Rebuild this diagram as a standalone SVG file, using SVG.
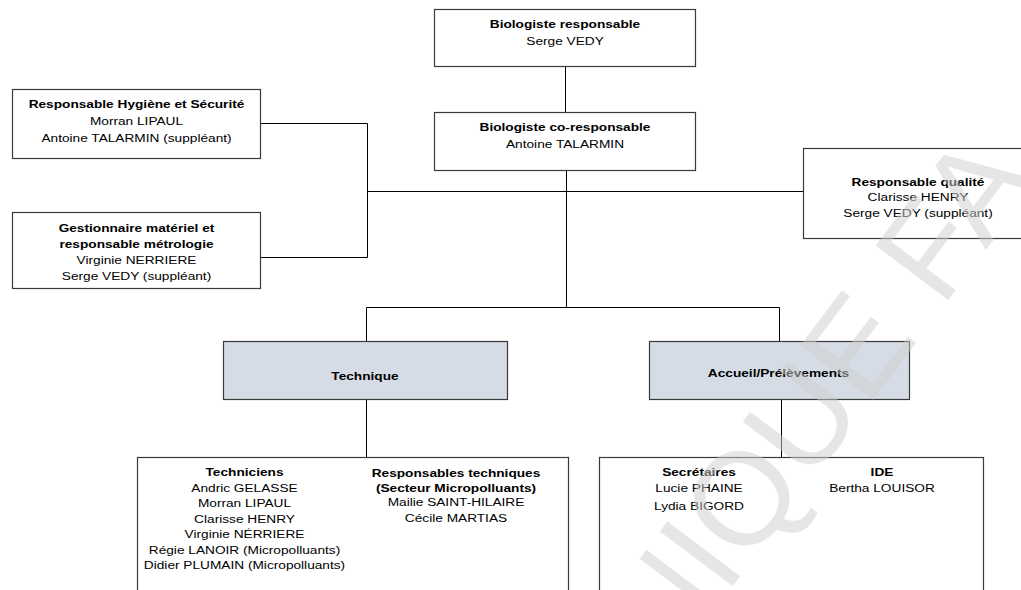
<svg xmlns="http://www.w3.org/2000/svg" width="1021" height="590" viewBox="0 0 1021 590">
  <style>
    text { font-family: "Liberation Sans", Arial, sans-serif; font-size: 11.5px; text-anchor: middle; fill: #000; }
    .b { font-weight: bold; }
    .box { fill: #fff; stroke: #3a3a3a; stroke-width: 1.2; }
    .dept { fill: #d6dce5; stroke: #3a3a3a; stroke-width: 1.2; }
    .wire { fill: none; stroke: #000; stroke-width: 1; }
    .mark { font-size: 132px; fill: #cfcfcf; opacity: 0.5; text-anchor: start; }
  </style>
  <rect width="1021" height="590" fill="#fff"/>

  <!-- connectors -->
  <g id="connectors">
    <path class="wire" d="M565.5 66 V112"/>
    <path class="wire" d="M566.5 170 V307.5"/>
    <path class="wire" d="M261 123.5 H367.5 V257.5 H261"/>
    <path class="wire" d="M367.5 191.5 H803.5"/>
    <path class="wire" d="M366.5 307.5 H779.5"/>
    <path class="wire" d="M366.5 307.5 V341.5"/>
    <path class="wire" d="M779.5 307.5 V341.5"/>
    <path class="wire" d="M366.5 399.5 V457.5"/>
    <path class="wire" d="M781.5 399.5 V457.5"/>
  </g>

  <g id="n-biologiste">
    <rect class="box" x="434.5" y="9.5" width="261" height="57"/>
    <g transform="matrix(1.19 0 0 1 565 0)">
      <text class="b" x="0" y="27.7">Biologiste responsable</text>
      <text x="0" y="45.5">Serge VEDY</text>
    </g>
  </g>

  <g id="n-cobiologiste">
    <rect class="box" x="434.5" y="112.5" width="261" height="58"/>
    <g transform="matrix(1.19 0 0 1 565 0)">
      <text class="b" x="0" y="130.7">Biologiste co-responsable</text>
      <text x="0" y="147.7">Antoine TALARMIN</text>
    </g>
  </g>

  <g id="n-hygiene">
    <rect class="box" x="12.5" y="89.5" width="248" height="69"/>
    <g transform="matrix(1.19 0 0 1 136.5 0)">
      <text class="b" x="0" y="108">Responsable Hygiène et Sécurité</text>
      <text x="0" y="125">Morran LIPAUL</text>
      <text x="0" y="142">Antoine TALARMIN (suppléant)</text>
    </g>
  </g>

  <g id="n-materiel">
    <rect class="box" x="12.5" y="212.5" width="248" height="76"/>
    <g transform="matrix(1.19 0 0 1 136.5 0)">
      <text class="b" x="0" y="232">Gestionnaire matériel et</text>
      <text class="b" x="0" y="248">responsable métrologie</text>
      <text x="0" y="264">Virginie NERRIERE</text>
      <text x="0" y="280">Serge VEDY (suppléant)</text>
    </g>
  </g>

  <g id="n-qualite">
    <rect class="box" x="803.5" y="148.5" width="235" height="90"/>
    <g transform="matrix(1.19 0 0 1 918 0)">
      <text class="b" x="0" y="186">Responsable qualité</text>
      <text x="0" y="201.5">Clarisse HENRY</text>
      <text x="0" y="217">Serge VEDY (suppléant)</text>
    </g>
  </g>

  <g id="n-technique">
    <rect class="dept" x="223.5" y="341.5" width="284" height="58"/>
    <g transform="matrix(1.19 0 0 1 365 0)">
      <text class="b" x="0" y="380">Technique</text>
    </g>
  </g>

  <g id="n-accueil">
    <rect class="dept" x="649.5" y="341.5" width="260" height="58"/>
    <g transform="matrix(1.19 0 0 1 778.5 0)">
      <text class="b" x="0" y="377">Accueil/Prélèvements</text>
    </g>
  </g>

  <g id="n-equipe-technique">
    <rect class="box" x="137.5" y="457.5" width="431" height="150"/>
    <g transform="matrix(1.19 0 0 1 244.5 0)">
      <text class="b" x="0" y="476">Techniciens</text>
      <text x="0" y="492">Andric GELASSE</text>
      <text x="0" y="507.5">Morran LIPAUL</text>
      <text x="0" y="523">Clarisse HENRY</text>
      <text x="0" y="538.5">Virginie NÉRRIERE</text>
      <text x="0" y="554">Régie LANOIR (Micropolluants)</text>
      <text x="0" y="569.5">Didier PLUMAIN (Micropolluants)</text>
    </g>
    <g transform="matrix(1.19 0 0 1 456 0)">
      <text class="b" x="0" y="477">Responsables techniques</text>
      <text class="b" x="0" y="492">(Secteur Micropolluants)</text>
      <text x="0" y="506.5">Mailie SAINT-HILAIRE</text>
      <text x="0" y="522">Cécile MARTIAS</text>
    </g>
  </g>

  <g id="n-equipe-accueil">
    <rect class="box" x="599.5" y="457.5" width="384" height="150"/>
    <g transform="matrix(1.19 0 0 1 699 0)">
      <text class="b" x="0" y="476">Secrétaires</text>
      <text x="0" y="492.3">Lucie PHAINE</text>
      <text x="0" y="510">Lydia BIGORD</text>
    </g>
    <g transform="matrix(1.19 0 0 1 882 0)">
      <text class="b" x="0" y="476">IDE</text>
      <text x="0" y="492.3">Bertha LOUISOR</text>
    </g>
  </g>

  <!-- diagonal watermark laid over the chart -->
  <text class="mark" transform="translate(668 672) rotate(-53)" x="0" y="0">NIQUE FA</text>
</svg>
